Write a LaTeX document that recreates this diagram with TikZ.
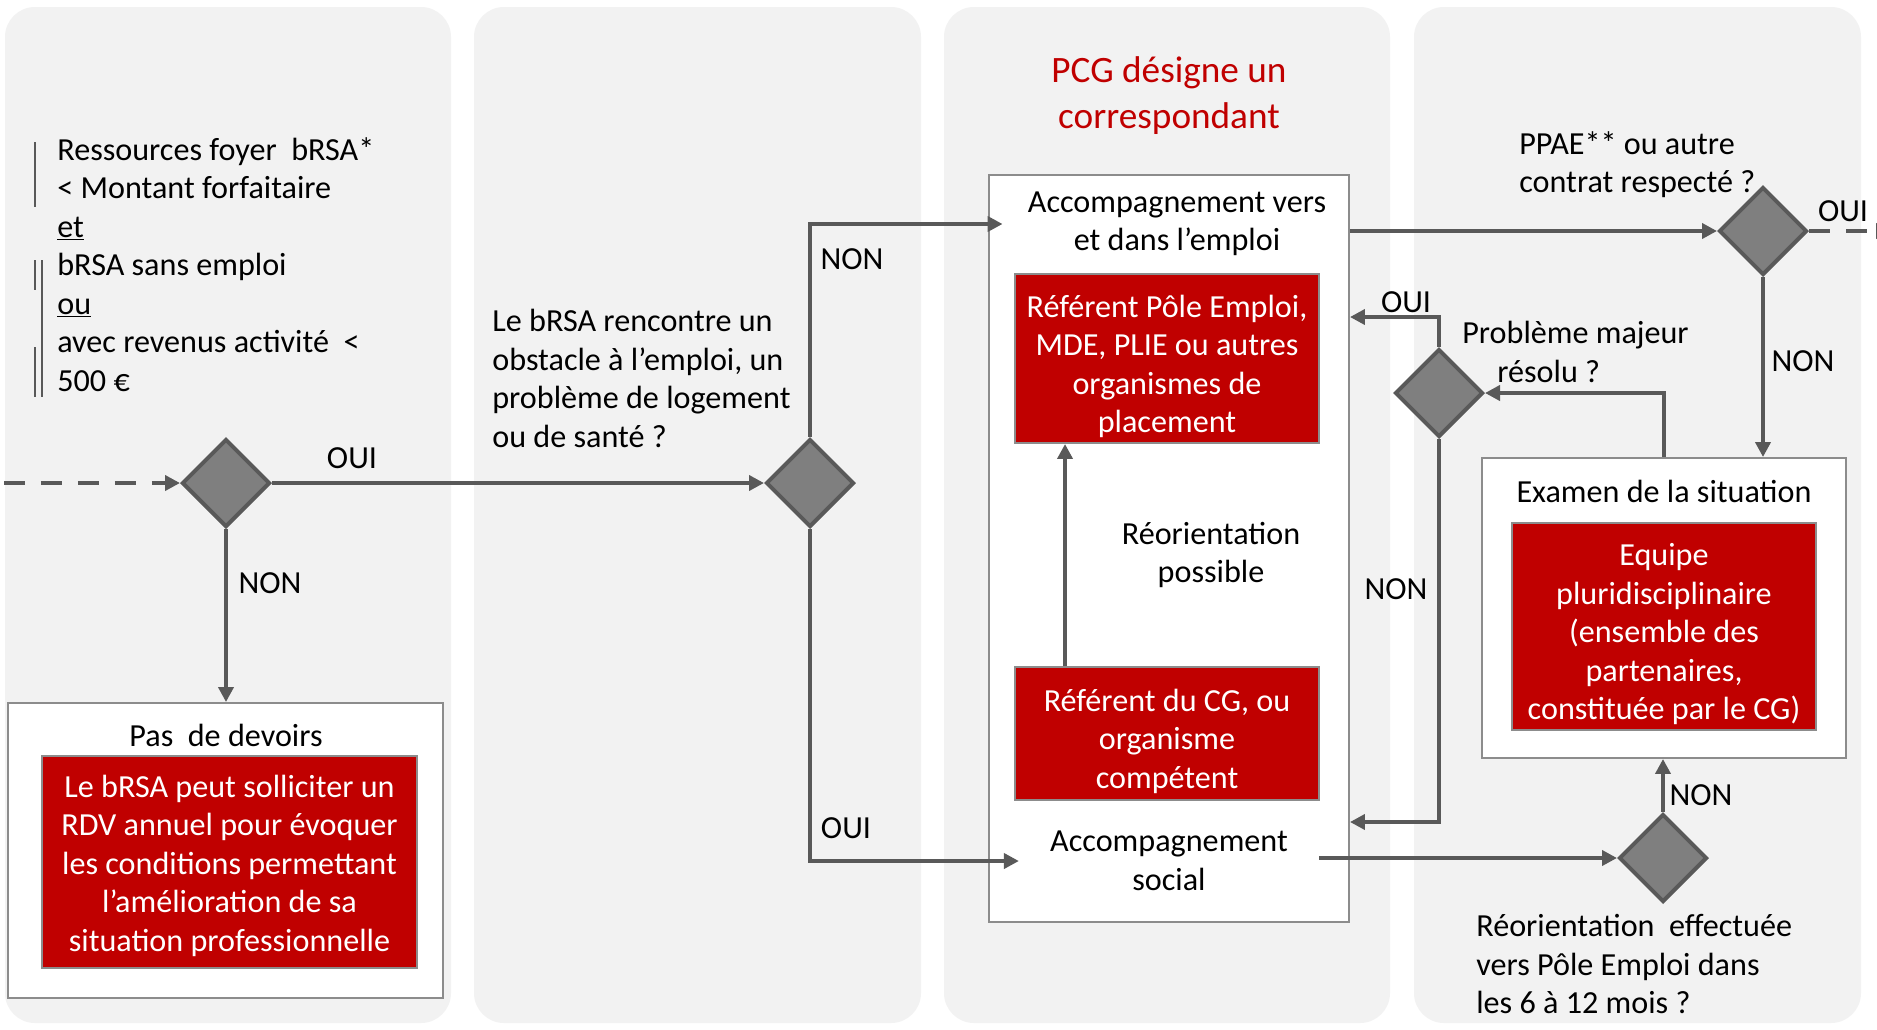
\documentclass[tikz,border=0pt]{standalone}
\usepackage{fontspec}
\setmainfont{Carlito}
\usetikzlibrary{arrows.meta,shapes.geometric,positioning}
\definecolor{rsared}{HTML}{C00000}
\definecolor{panelgray}{HTML}{F2F2F2}
\definecolor{linegray}{HTML}{595959}
\definecolor{diamgray}{HTML}{7F7F7F}
\definecolor{boxgray}{HTML}{8C8C8C}
\newcommand{\rsafont}{\fontsize{18.3}{21.9}\selectfont}
\newcommand{\rsastrut}[1][0.76cm]{\rule{0pt}{#1}}% 红框内文字稍稍下移

\begin{document}
\begin{tikzpicture}
  [x=0.02cm,y=-0.02cm,>={Triangle[length=0.3cm,width=0.3cm]},%坐标以像素为单位,y轴向下
   every node/.style={font=\rsafont},
   panel/.style={fill=panelgray,rounded corners=0.6cm},%四个灰色栏
   decision/.style={diamond,draw=linegray,fill=diamgray,line width=0.08cm,minimum width=1.76cm,minimum height=1.76cm,inner sep=0pt},%判断菱形
   outer box/.style={rectangle,draw=boxgray,fill=white,line width=0.04cm},%白色外框
   red box/.style={rectangle,draw=boxgray,fill=rsared,text=white,align=center,line width=0.04cm,inner sep=0pt},%红色内框
   flow/.style={->,draw=linegray,line width=0.08cm},%流程箭头
   dash flow/.style={flow,dash pattern=on 0.42cm off 0.32cm},
   question/.style={align=left,anchor=north west,inner sep=0pt},
   answer/.style={inner sep=0pt}]

  \useasboundingbox (0,0) rectangle (1877,1029);
  \clip (0,0) rectangle (1877,1029);
  \fill[white] (0,0) rectangle (1877,1029);

  % 背景的四栏
  \foreach \xa/\xb in {5/451,474/921,944/1390,1414/1861}
    \fill[panel] (\xa,7) rectangle (\xb,1023);

  % 第一栏
  \draw[linegray,line width=0.04cm] (35,142) -- (35,207) (42,260) -- (42,397) (35,260) -- (35,290) (35,347) -- (35,397);%修订标记
  \node [question] (cond) at (57,137) {Ressources foyer\ \ bRSA*\\< Montant forfaitaire\\\underline{et}\\bRSA sans emploi\\\underline{ou}\\avec revenus activité\ \ <\\500 €};
  \coordinate (in) at (4,483);
  \node [decision] (d1) at (226,483) {};
  \node [outer box,minimum width=8.7cm,minimum height=5.9cm] (pd) at (225.5,850.5) {};
  \node (pdt) at (226,735) {Pas\ \ de devoirs};
  \node [red box,minimum width=7.5cm,minimum height=4.24cm] (rb0) at (229.5,862)
    {\rsastrut[0.6cm]Le bRSA peut solliciter un\\RDV annuel pour évoquer\\les conditions permettant\\l’amélioration de sa\\situation professionnelle};

  % 第二栏
  \node [question] (q2) at (492,309) {Le bRSA rencontre un\\obstacle à l’emploi, un\\problème de logement\\ou de santé ?};
  \node [decision] (d2) at (810,483) {};

  % 第三栏
  \node [text=rsared,align=center,font=\fontsize{21.2}{25.8}\selectfont] (pcg) at (1169,95.5) {PCG désigne un\\correspondant};
  \node [outer box,minimum width=7.2cm,minimum height=14.94cm] (ob) at (1169,548.5) {};
  \node [align=center,inner xsep=0.5cm,inner ysep=0pt] (av) at (1177,224) {Accompagnement vers\\et dans l’emploi};
  \node [red box,minimum width=6.08cm,minimum height=3.38cm] (rb1) at (1167,358.5)
    {\rsastrut Référent Pôle Emploi,\\MDE, PLIE ou autres\\organismes de\\placement};
  \node [align=center] (reo) at (1211,555) {Réorientation\\possible};
  \node [red box,minimum width=6.08cm,minimum height=2.66cm] (rb2) at (1167,733.5)
    {\rsastrut Référent du CG, ou\\organisme\\compétent};
  \node [align=center,inner xsep=0.62cm,inner ysep=0pt] (as) at (1169,861) {Accompagnement\\social};

  % 第四栏
  \node [question] (q3) at (1519,131) {PPAE** ou autre\\contrat respecté ?};
  \node [decision] (d3) at (1763,231) {};
  \coordinate (out) at (1891,231);
  \node [question] (q5) at (1462,321) {Problème majeur\\\hspace*{0.7cm}résolu ?};
  \node [decision] (d5) at (1439,393) {};
  \node [outer box,minimum width=7.28cm,minimum height=6cm] (ex) at (1664,608) {};
  \node (ext) at (1664,491) {Examen de la situation};
  \node [red box,minimum width=6.08cm,minimum height=4.14cm] (rb3) at (1664,626.5)
    {\rsastrut Equipe\\pluridisciplinaire\\(ensemble des\\partenaires,\\constituée par le CG)};
  \node [decision] (d4) at (1663,858) {};
  \node [question] (q4) at (1476,914) {Réorientation\ \ effectuée\\vers Pôle Emploi dans\\les 6 à 12 mois ?};

  % 分支标签
  \node [answer] (oui1) at (352,458) {OUI};
  \node [answer] (non1) at (270,583) {NON};
  \node [answer] (non2) at (852,259) {NON};
  \node [answer] (oui2) at (846,828) {OUI};
  \node [answer] (oui3) at (1406,302) {OUI};
  \node [answer] (non3) at (1396,589) {NON};
  \node [answer] (non4) at (1803,361) {NON};
  \node [answer] (oui4) at (1843,211) {OUI};
  \node [answer] (non5) at (1701,795) {NON};

  % 连线
  \draw [dash flow] (in) -- (d1.west);
  \draw [flow] (d1.east) -- (d2.west);
  \draw [flow] (d1.south) -- (d1.south |- pd.north);
  \draw [flow] (d2.north) |- (av.west);
  \draw [flow] (d2.south) |- (as.west);
  \draw [flow] ([xshift=-2.04cm]rb2.north) -- ([xshift=-2.04cm]rb1.south);%重新定向
  \draw [flow] (ob.east |- d3.west) -- (d3.west);
  \draw [dash flow] (d3.east) -- (out);
  \draw [flow] (d3.south) -- (d3.south |- ex.north);
  \draw [flow] (ex.north) |- (d5.east);
  \draw [flow] (d5.north) -- ++(0,-30) coordinate (k1) -- (k1 -| ob.east);
  \draw [flow] (d5.south) -- ++(0,383) coordinate (k2) -- (k2 -| ob.east);
  \draw [flow] (as.east |- d4.west) -- (d4.west);
  \draw [flow] (d4.north) -- (d4.north |- ex.south);

\end{tikzpicture}
\end{document}
